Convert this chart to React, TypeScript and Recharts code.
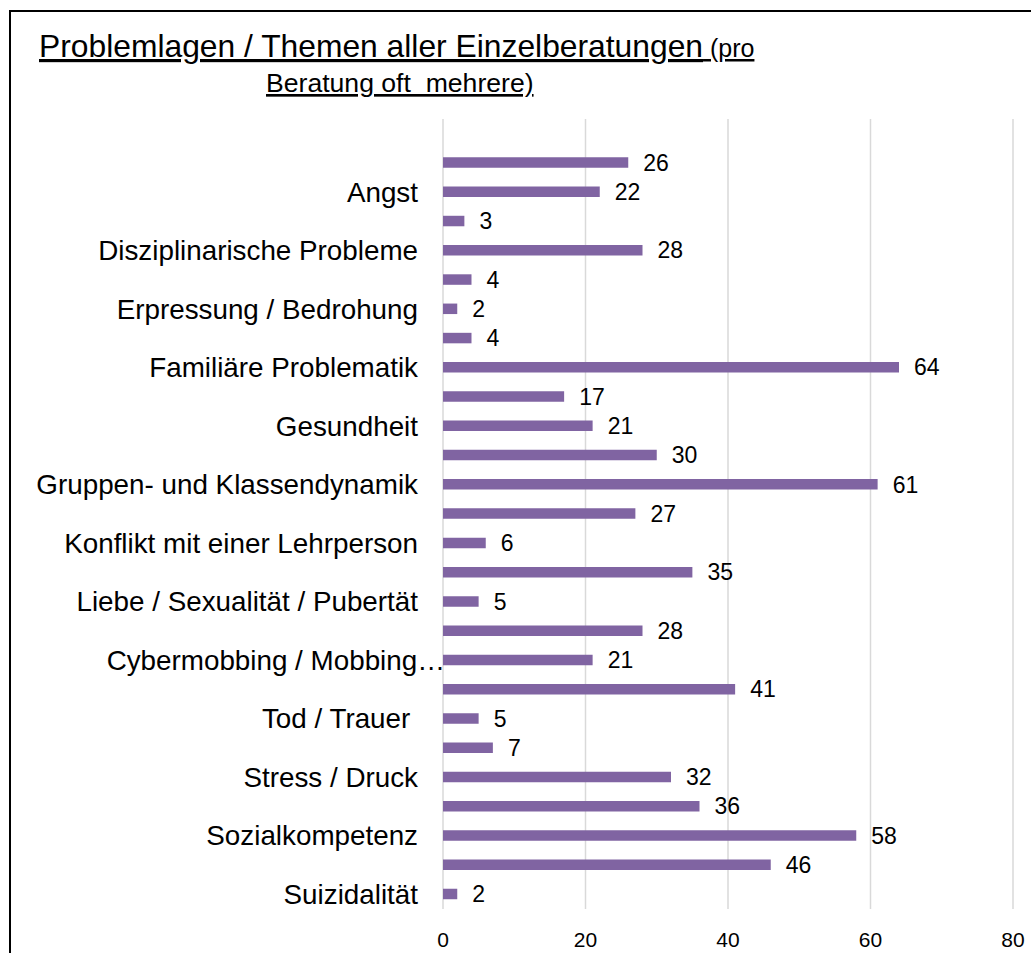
import React from "react";
import { BarChart, Bar, XAxis, YAxis, CartesianGrid, LabelList } from "recharts";

// Categories from bottom to top (Excel order); empty strings are categories whose labels are skipped
const categories: string[] = [
  "Suizidalität", "", "Sozialkompetenz", "", "Stress / Druck", "", "Tod / Trauer ", "",
  "Cybermobbing / Mobbing…", "", "Liebe / Sexualität / Pubertät", "", "Konflikt mit einer Lehrperson", "",
  "Gruppen- und Klassendynamik", "", "Gesundheit", "", "Familiäre Problematik", "",
  "Erpressung / Bedrohung", "", "Disziplinarische Probleme", "", "Angst", "", "",
];
const values: (number | null)[] = [
  2, 46, 58, 36, 32, 7, 5, 41,
  21, 28, 5, 35, 6, 27,
  61, 30, 21, 17, 64, 4,
  2, 4, 28, 3, 22, 26, null,
];
const xTicks: number[] = [0, 20, 40, 60, 80];

const data = categories.map((c, i) => ({ idx: i, label: c, value: values[i] }));

const FONT = "'Liberation Sans', Arial, sans-serif";

const CategoryTick = (props: any) => {
  const { x, y, payload } = props;
  const text = categories[payload.value] ?? "";
  const truncated = text.endsWith("…");
  return (
    <text
      x={x}
      y={y}
      dx={truncated ? 27 : 0}
      textAnchor="end"
      dominantBaseline="central"
      fontSize={27.8}
      fontFamily={FONT}
      fill="#000"
      style={{ whiteSpace: "pre" }}
    >
      {text}
    </text>
  );
};

export default function App() {
  return (
    <div style={{ position: "absolute", left: 0, top: 0, width: 1034, height: 953, overflow: "hidden", background: "#fff" }}>
      <div
        style={{
          position: "absolute",
          left: 9,
          top: 10,
          width: 1020,
          height: 941,
          borderLeft: "2px solid #000",
          borderTop: "2px solid #000",
        }}
      />
      <svg style={{ position: "absolute", left: 0, top: 0 }} width={1034} height={110}>
        <text x={39} y={57} fontSize={31.8} fontFamily={FONT} fill="#000" textDecoration="underline" style={{ whiteSpace: "pre" }}>
          Problemlagen / Themen aller Einzelberatungen<tspan fontSize={25}> (pro</tspan>
        </text>
        <text x={266} y={92} fontSize={26.6} fontFamily={FONT} fill="#000" textDecoration="underline" style={{ whiteSpace: "pre" }}>
          {"Beratung oft  mehrere)"}
        </text>
      </svg>
      <div style={{ position: "absolute", left: 0, top: 0 }}>
        <BarChart
          width={1034}
          height={953}
          data={data}
          layout="vertical"
          margin={{ top: 119, right: 21, bottom: 14, left: 0 }}
        >
          <CartesianGrid horizontal={false} vertical={true} stroke="#D9D9D9" strokeWidth={1.5} />
          <XAxis
            type="number"
            domain={[0, 80]}
            ticks={xTicks}
            axisLine={false}
            tickLine={false}
            tickSize={0}
            tickMargin={23}
            height={30}
            tick={{ fontSize: 21, fill: "#000", fontFamily: FONT }}
          />
          <YAxis
            type="category"
            dataKey="idx"
            reversed
            width={443}
            axisLine={false}
            tickLine={false}
            tickSize={0}
            tickMargin={25}
            interval={0}
            tick={<CategoryTick />}
          />
          <Bar dataKey="value" fill="#8064A2" barSize={10.5} isAnimationActive={false}>
            <LabelList
              dataKey="value"
              position="right"
              offset={15}
              fontSize={23}
              fill="#000"
              fontFamily={FONT}
            />
          </Bar>
        </BarChart>
      </div>
    </div>
  );
}
